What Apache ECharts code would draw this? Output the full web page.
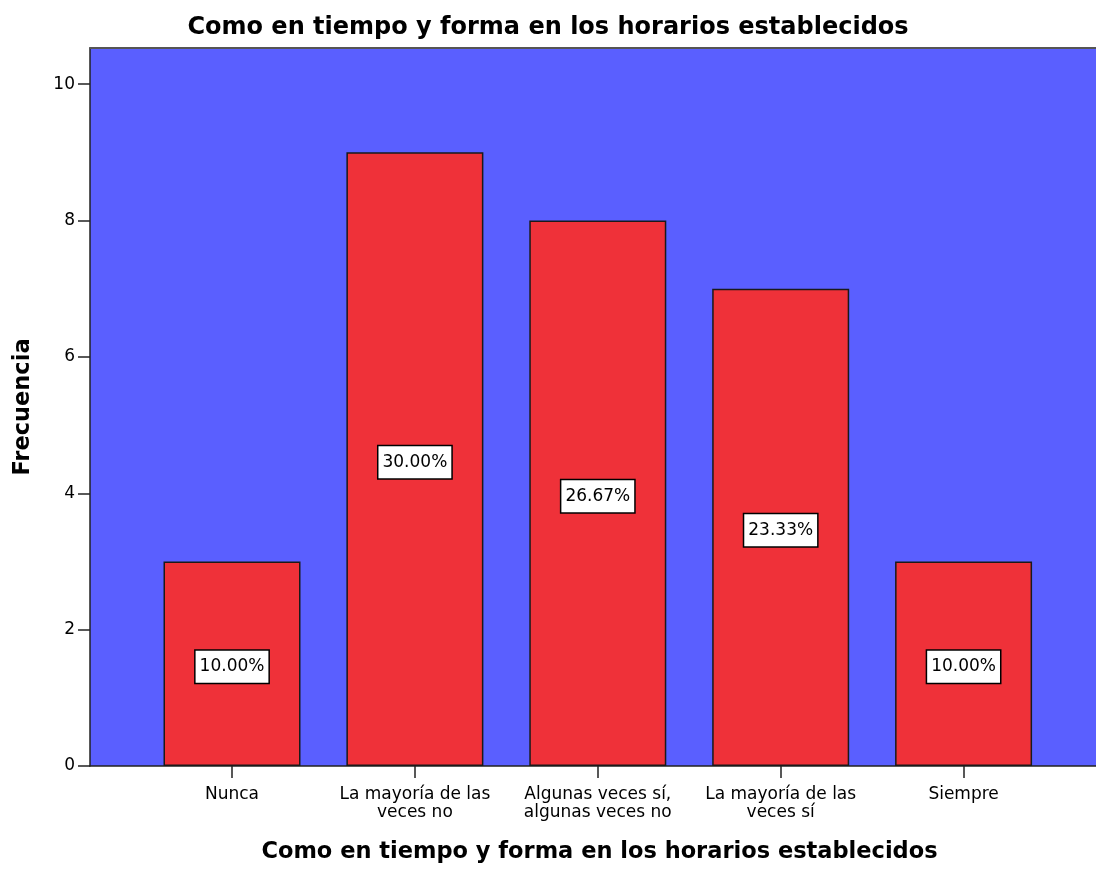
<!DOCTYPE html>
<html>
<head>
<meta charset="utf-8">
<script src="https://cdn.jsdelivr.net/npm/echarts@6/dist/echarts.min.js"></script>
<style>
  html, body { margin: 0; padding: 0; background: #ffffff; }
  #chart { width: 1096px; height: 870px; }
</style>
</head>
<body>
<div id="chart"></div>
<script>
// Response categories (x axis) and their frequencies
const categories = [
  'Nunca',
  'La mayoría de las\nveces no',
  'Algunas veces sí,\nalgunas veces no',
  'La mayoría de las\nveces sí',
  'Siempre'
];
const frequencies = [3, 9, 8, 7, 3];
const yTicks = [0, 2, 4, 6, 8, 10];
const xTicks = [1, 2, 3, 4, 5];

const titleText = 'Como en tiempo y forma en los horarios establecidos';
const total = frequencies.reduce((a, b) => a + b, 0);

const FONT = '"DejaVu Sans", "Liberation Sans", Arial, sans-serif';

const chart = echarts.init(document.getElementById('chart'), null, { renderer: 'canvas' });

// Bars sit at positions 1..5 on a value axis so the plot keeps its wide side margins
const barData = frequencies.map((v, i) => [i + 1, v]);

chart.setOption({
  animation: false,
  backgroundColor: '#ffffff',
  title: {
    text: titleText,
    left: 'center',
    top: 11,
    textStyle: { fontFamily: FONT, fontWeight: 'bold', fontSize: 24, color: '#000' }
  },
  grid: {
    left: 90,
    right: 0,
    top: 48,
    bottom: 104,
    show: true,
    backgroundColor: '#5a5fff',
    borderWidth: 0
  },
  xAxis: [
    {
      type: 'value',
      min: 0.2236,
      max: 5.724,
      name: titleText,
      nameLocation: 'middle',
      nameGap: 75,
      nameTextStyle: {
        fontFamily: FONT, fontWeight: 'bold', fontSize: 22.5, color: '#000',
        padding: [0, 0, 0, 13]
      },
      splitLine: { show: false },
      axisLine: { show: true, lineStyle: { color: '#222', width: 1.5 } },
      axisTick: { show: true, length: 12, customValues: xTicks, lineStyle: { color: '#222', width: 1.5 } },
      axisLabel: {
        customValues: xTicks,
        margin: 20,
        fontFamily: FONT,
        fontSize: 17,
        lineHeight: 18,
        color: '#000',
        align: 'center',
        formatter: v => categories[Math.round(v) - 1]
      }
    },
    {
      type: 'value',
      position: 'top',
      min: 0.2236,
      max: 5.724,
      splitLine: { show: false },
      axisLine: { show: true, lineStyle: { color: '#555', width: 2 } },
      axisTick: { show: false },
      axisLabel: { show: false }
    }
  ],
  yAxis: {
    type: 'value',
    min: 0,
    max: 10.53,
    interval: 2,
    name: 'Frecuencia',
    nameLocation: 'middle',
    nameRotate: 90,
    nameGap: 55,
    nameTextStyle: { fontFamily: FONT, fontWeight: 'bold', fontSize: 22.5, color: '#000' },
    splitLine: { show: false },
    axisLine: { show: true, lineStyle: { color: '#222', width: 1.5 } },
    axisTick: { show: true, length: 12, customValues: yTicks, lineStyle: { color: '#222', width: 1.5 } },
    axisLabel: {
      customValues: yTicks,
      margin: 15,
      fontFamily: FONT,
      fontSize: 17,
      color: '#000'
    }
  },
  series: [
    {
      type: 'bar',
      xAxisIndex: 0,
      data: barData,
      barWidth: 137,
      itemStyle: { color: '#ef3139', borderColor: '#1a1a1a', borderWidth: 1.5 },
      label: {
        show: true,
        position: 'inside',
        offset: [0, 3],
        formatter: p => (p.value[1] / total * 100).toFixed(2) + '%',
        fontFamily: FONT,
        fontSize: 17,
        color: '#000',
        backgroundColor: '#ffffff',
        borderColor: '#000',
        borderWidth: 1.5,
        padding: [8, 4, 7, 4]
      }
    }
  ]
});
</script>
</body>
</html>
